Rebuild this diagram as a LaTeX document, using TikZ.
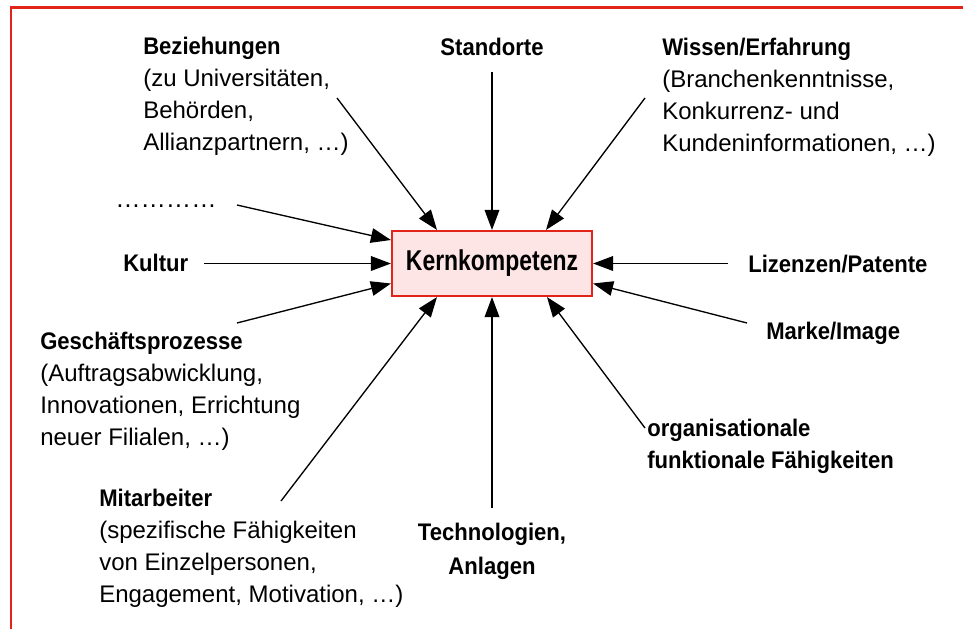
\documentclass[tikz,border=0pt]{standalone}
\usepackage{fontspec}
\setmainfont{Liberation Sans}[BoldFeatures={FakeStretch=0.92}]
\newfontfamily\kernfont{Liberation Sans}[BoldFeatures={FakeStretch=0.8}]
\usetikzlibrary{calc,arrows.meta}
\definecolor{kkred}{HTML}{E2231A}
\definecolor{kkpink}{HTML}{FDE5E5}

\begin{document}
\begin{tikzpicture}[x=0.75pt,y=-0.75pt,
  lbl/.style={inner sep=0pt,align=left,anchor=north west,font=\fontsize{18}{24}\selectfont},
  hd/.style={inner sep=0pt,align=center,anchor=north,font=\fontsize{18}{25}\selectfont\bfseries},
  kbox/.style={draw=kkred,fill=kkpink,line width=1.6pt,minimum width=150pt,minimum height=48.75pt,
  font=\kernfont\fontsize{21.5}{25}\selectfont\bfseries},
  arr/.style={-{Triangle[length=15pt,width=11pt]},line width=1pt}]
\useasboundingbox (0,0) rectangle (963,629);
\draw[kkred,line width=1.75pt] (11,629) -- (11,7.5) -- (963,7.5);
\node[kbox] (kern) at (492,263.5) {Kernkompetenz};
\node[lbl] (bez) at (143,37) {\textbf{Beziehungen}\\(zu Universitäten,\\Behörden,\\Allianzpartnern, \dots)};
\node[hd] (stand) at (492,38) {Standorte};
\node[lbl] (wiss) at (662,38) {\textbf{Wissen/Erfahrung}\\(Branchenkenntnisse,\\Konkurrenz- und\\Kundeninformationen, \dots)};
\node[lbl,anchor=base west,font=\fontsize{19}{24}\selectfont] (dots) at (115,207) {…………};
\node[lbl] (kult) at (123,254) {\textbf{Kultur}};
\node[lbl] (liz) at (748,255) {\textbf{Lizenzen/Patente}};
\node[lbl] (marke) at (766,322) {\textbf{Marke/Image}};
\node[lbl] (gesch) at (40,332) {\textbf{Geschäftsprozesse}\\(Auftragsabwicklung,\\Innovationen, Errichtung\\neuer Filialen, \dots)};
\node[lbl] (orga) at (647,419) {\textbf{organisationale}\\\textbf{funktionale Fähigkeiten}};
\node[lbl] (mitarb) at (99,489) {\textbf{Mitarbeiter}\\(spezifische Fähigkeiten\\von Einzelpersonen,\\Engagement, Motivation, \dots)};
\node[hd] (tech) at (492,523) {Technologien,\\Anlagen};
\coordinate (bez-a) at (337,98);\coordinate (stand-a) at (492,72);\coordinate (wiss-a) at (645,98);
\coordinate (dots-a) at (237,205);\coordinate (kult-a) at (204,263.5);\coordinate (liz-a) at (728,263.5);
\coordinate (marke-a) at (747,323);\coordinate (gesch-a) at (237,323);\coordinate (orga-a) at (645,428);
\coordinate (mitarb-a) at (281,501);\coordinate (tech-a) at (492,508);
\draw[arr] (bez-a) -- ($(kern.north)+(-55,0)$);
\draw[arr] (stand-a) -- (kern.north);
\draw[arr] (wiss-a) -- ($(kern.north)+(54,0)$);
\draw[arr] (dots-a) -- ($(kern.west)+(0,-23.5)$);
\draw[arr] (kult-a) -- (kern.west);
\draw[arr] (liz-a) -- (kern.east);
\draw[arr] (gesch-a) -- ($(kern.west)+(0,20)$);
\draw[arr] (marke-a) -- ($(kern.east)+(0,20)$);
\draw[arr] (mitarb-a) -- ($(kern.south)+(-55,0)$);
\draw[arr] (tech-a) -- (kern.south);
\draw[arr] (orga-a) -- ($(kern.south)+(55,0)$);
\end{tikzpicture}
\end{document}
